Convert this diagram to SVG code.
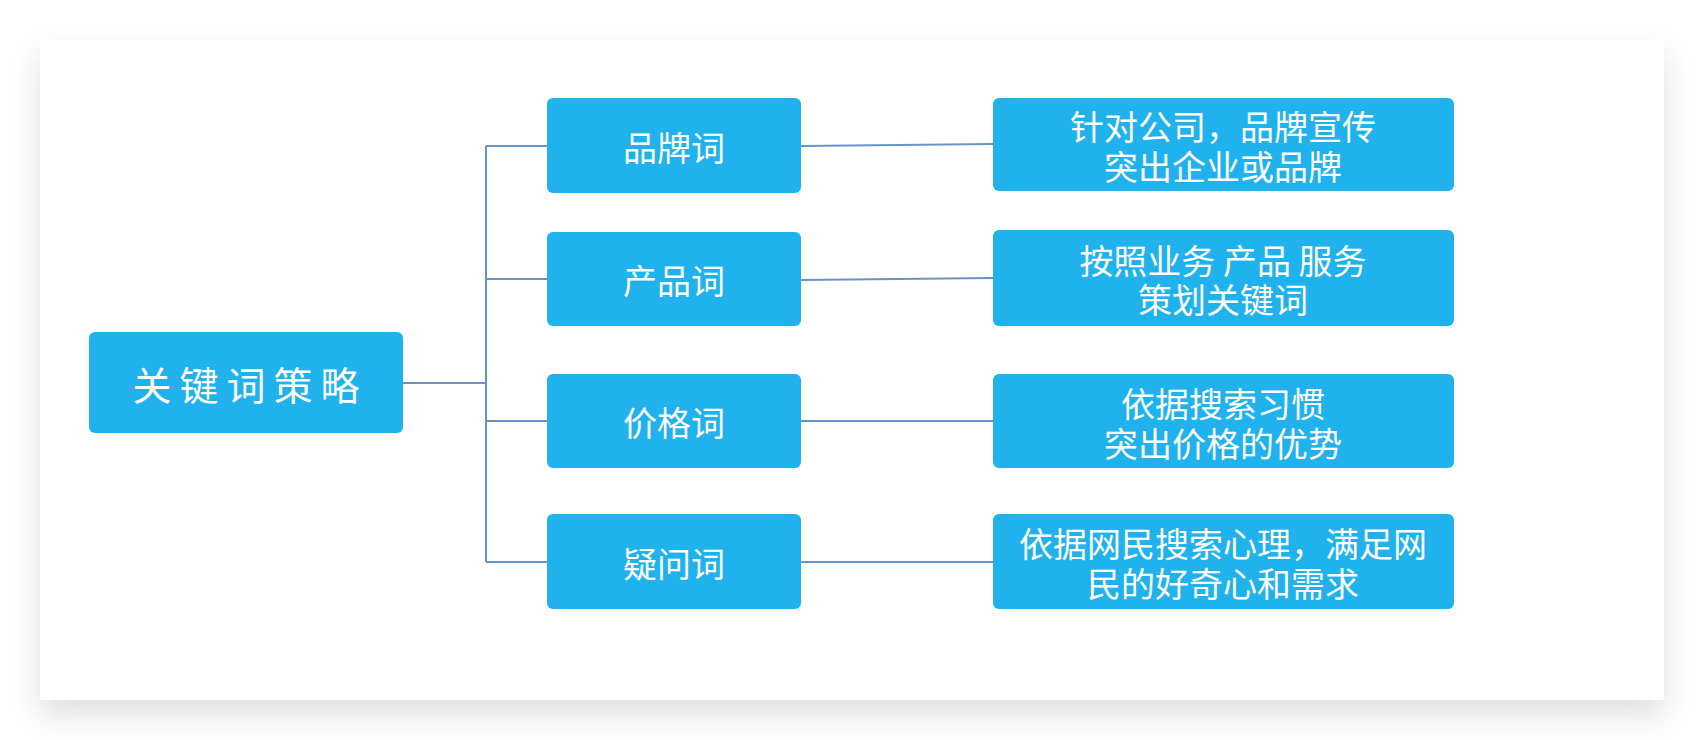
<svg xmlns="http://www.w3.org/2000/svg" width="1704" height="740" viewBox="0 0 1704 740">
<defs>
<filter id="sh" x="-10%" y="-20%" width="120%" height="150%">
<feDropShadow dx="0" dy="15" stdDeviation="15" flood-color="#000" flood-opacity="0.13"/>
</filter>
<style>
.node{fill:#20B2EC;}
.t{fill:#fff;font-family:"Noto Sans CJK SC","Noto Sans",sans-serif;font-size:34px;text-anchor:middle;dominant-baseline:central;}
.root{font-size:39px;letter-spacing:8px;}
.c{stroke:#6A92C3;stroke-width:2;fill:none;}
</style>
</defs>
<rect x="0" y="0" width="1704" height="740" fill="#fff"/>
<rect x="40" y="40" width="1624" height="660" fill="#fff" filter="url(#sh)"/>
<g id="connectors">
<path class="c" d="M403 383H486M486 146V562M486 146H547M486 279H547M486 421H547M486 562H547"/>
<path class="c" d="M801 146L993 144M801 280L993 278M801 421H993M801 562H993"/>
</g>
<g id="root">
<rect class="node" x="89" y="332" width="314" height="101" rx="6"/>
<text class="t root" x="250" y="383">关键词策略</text>
</g>
<g id="brand">
<rect class="node" x="547" y="98" width="254" height="95" rx="6"/>
<text class="t" x="674" y="146">品牌词</text>
</g>
<g id="product">
<rect class="node" x="547" y="232" width="254" height="94" rx="6"/>
<text class="t" x="674" y="279">产品词</text>
</g>
<g id="price">
<rect class="node" x="547" y="374" width="254" height="94" rx="6"/>
<text class="t" x="674" y="421">价格词</text>
</g>
<g id="question">
<rect class="node" x="547" y="514" width="254" height="95" rx="6"/>
<text class="t" x="674" y="562">疑问词</text>
</g>
<g id="brand-desc">
<rect class="node" x="993" y="98" width="461" height="93" rx="6"/>
<text class="t" x="1223" y="125">针对公司，品牌宣传</text>
<text class="t" x="1223" y="165">突出企业或品牌</text>
</g>
<g id="product-desc">
<rect class="node" x="993" y="230" width="461" height="96" rx="6"/>
<text class="t" x="1223" y="259">按照业务 产品 服务</text>
<text class="t" x="1223" y="298">策划关键词</text>
</g>
<g id="price-desc">
<rect class="node" x="993" y="374" width="461" height="94" rx="6"/>
<text class="t" x="1223" y="402">依据搜索习惯</text>
<text class="t" x="1223" y="442">突出价格的优势</text>
</g>
<g id="question-desc">
<rect class="node" x="993" y="514" width="461" height="95" rx="6"/>
<text class="t" x="1223" y="542">依据网民搜索心理，满足网</text>
<text class="t" x="1223" y="582">民的好奇心和需求</text>
</g>
</svg>
